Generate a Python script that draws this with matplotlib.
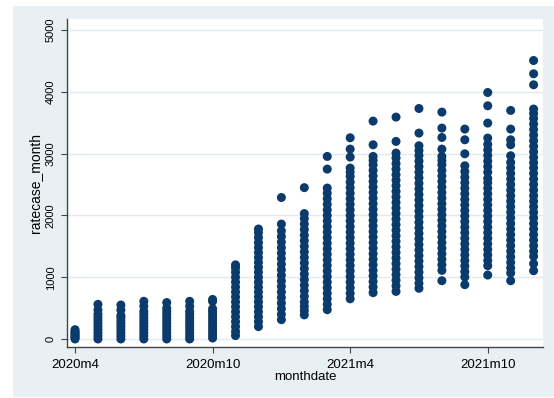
import matplotlib
matplotlib.use('Agg')
import matplotlib.pyplot as plt
import matplotlib.patches as patches

# month labels (index 0 = 2020m4 ... 20 = 2021m12)
months = ['2020m4', '2020m5', '2020m6', '2020m7', '2020m8', '2020m9', '2020m10',
          '2020m11', '2020m12', '2021m1', '2021m2', '2021m3', '2021m4', '2021m5',
          '2021m6', '2021m7', '2021m8', '2021m9', '2021m10', '2021m11', '2021m12']
tick_months = ['2020m4', '2020m10', '2021m4', '2021m10']
y_ticks = [0, 1000, 2000, 3000, 4000, 5000]

# ratecase_month values read per month
m2020_04 = [0, 20, 40, 60, 80, 100, 120, 150]
m2020_05 = [0, 50, 100, 150, 200, 250, 300, 350, 400, 470, 560]
m2020_06 = [0, 50, 100, 150, 200, 250, 300, 350, 380, 470, 550]
m2020_07 = [0, 50, 100, 150, 200, 250, 300, 350, 400, 450, 530, 610]
m2020_08 = [0, 50, 100, 150, 200, 250, 300, 350, 400, 450, 500, 590]
m2020_09 = [0, 50, 100, 150, 200, 250, 300, 350, 400, 450, 530, 610]
m2020_10 = [15, 60, 110, 160, 210, 260, 310, 360, 410, 450, 490, 610, 640]
m2020_11 = [55, 120, 200, 280, 360, 440, 520, 600, 680, 760, 840, 920, 1000,
            1080, 1150, 1200]
m2020_12 = [200, 280, 360, 440, 520, 600, 680, 760, 840, 920, 1000, 1080, 1160,
            1240, 1320, 1400, 1480, 1560, 1640, 1720, 1780]
m2021_01 = [312, 400, 490, 580, 670, 760, 850, 940, 1030, 1120, 1210, 1300,
            1390, 1480, 1570, 1660, 1750, 1860, 2290]
m2021_02 = [390, 460, 527, 600, 690, 780, 870, 960, 1050, 1140, 1230, 1320,
            1410, 1500, 1590, 1680, 1770, 1860, 1950, 2030, 2450]
m2021_03 = [474, 560, 650, 740, 830, 920, 1010, 1100, 1190, 1280, 1370, 1460,
            1550, 1640, 1730, 1820, 1910, 2000, 2090, 2180, 2270, 2360, 2443,
            2750, 2955]
m2021_04 = [650, 740, 830, 920, 1010, 1100, 1190, 1280, 1370, 1460, 1550, 1640,
            1730, 1820, 1910, 2000, 2090, 2180, 2270, 2360, 2450, 2540, 2630,
            2700, 2767, 2945, 3074, 3257]
m2021_05 = [750, 840, 930, 1020, 1110, 1200, 1290, 1380, 1470, 1560, 1650, 1740,
            1830, 1920, 2010, 2100, 2190, 2280, 2370, 2460, 2550, 2640, 2730,
            2820, 2890, 2955, 3144, 3527]
m2021_06 = [770, 860, 950, 1040, 1130, 1220, 1310, 1400, 1490, 1580, 1670, 1760,
            1850, 1940, 2030, 2120, 2210, 2300, 2390, 2480, 2570, 2660, 2750,
            2840, 2930, 3010, 3198, 3592]
m2021_07 = [820, 900, 990, 1080, 1170, 1260, 1350, 1440, 1530, 1620, 1710, 1800,
            1890, 1980, 2070, 2160, 2250, 2340, 2430, 2520, 2610, 2700, 2790,
            2880, 2970, 3050, 3128, 3333, 3731]
m2021_08 = [943, 1110, 1200, 1290, 1380, 1470, 1560, 1650, 1740, 1830, 1920,
            2010, 2100, 2190, 2280, 2370, 2460, 2550, 2640, 2730, 2820, 2890,
            2955, 3074, 3262, 3414, 3673]
m2021_09 = [879, 1003, 1090, 1180, 1270, 1360, 1450, 1540, 1630, 1720, 1810,
            1900, 1990, 2080, 2170, 2260, 2350, 2440, 2530, 2620, 2710, 2804,
            2998, 3225, 3398]
m2021_10 = [1035, 1186, 1270, 1360, 1450, 1540, 1630, 1720, 1810, 1900, 1990,
            2080, 2170, 2260, 2350, 2440, 2530, 2600, 2700, 2790, 2880, 2970,
            3060, 3150, 3252, 3495, 3775, 3990]
m2021_11 = [943, 1068, 1150, 1240, 1330, 1420, 1510, 1600, 1690, 1780, 1870,
            1960, 2050, 2140, 2230, 2320, 2410, 2500, 2590, 2680, 2770, 2860,
            2966, 3144, 3225, 3398, 3700]
m2021_12 = [1105, 1218, 1337, 1420, 1510, 1600, 1690, 1780, 1870, 1960, 2050,
            2140, 2230, 2320, 2410, 2500, 2590, 2680, 2770, 2853, 2940, 3030,
            3120, 3210, 3300, 3390, 3480, 3570, 3650, 3722, 4115, 4293, 4508]

values = [m2020_04, m2020_05, m2020_06, m2020_07, m2020_08, m2020_09, m2020_10,
          m2020_11, m2020_12, m2021_01, m2021_02, m2021_03, m2021_04, m2021_05,
          m2021_06, m2021_07, m2021_08, m2021_09, m2021_10, m2021_11, m2021_12]

plt.rcParams['font.family'] = ['Liberation Sans', 'DejaVu Sans']

bg = '#e8f0f3'
navy = '#0b3b6c'

fig = plt.figure(figsize=(5.54, 3.98), dpi=100, facecolor='white')
# Stata-like graph region, kept behind the axes
fig.patches.append(patches.Rectangle((13 / 554, 1 / 398), 541 / 554, 391 / 398,
                                     transform=fig.transFigure, facecolor=bg,
                                     edgecolor='none', zorder=-10))

ax = fig.add_axes([67 / 554, 51 / 398, 476 / 554, 328 / 398])
ax.set_zorder(5)
ax.set_facecolor('white')

for i, vals in enumerate(values):
    ax.scatter([i] * len(vals), vals, s=42, color=navy, edgecolors='none', zorder=3)

ax.set_xlim(-0.35, 20.41)
ax.set_ylim(-130, 5180)

ax.set_yticks(y_ticks)
ax.set_yticklabels([str(v) for v in y_ticks], rotation=90, va='center', fontsize=8)
ax.set_xticks([months.index(m) for m in tick_months])
ax.set_xticklabels(tick_months, fontsize=9.5)

ax.grid(axis='y', color='#e0eaef', linewidth=1)
ax.set_axisbelow(True)

for side in ['top', 'right']:
    ax.spines[side].set_visible(False)
for side in ['left', 'bottom']:
    ax.spines[side].set_color('#444444')
    ax.spines[side].set_linewidth(1)
ax.tick_params(axis='y', length=4, width=0.8, color='#444444', pad=4)
ax.tick_params(axis='x', length=4, width=0.8, color='#444444', pad=5)

ax.set_xlabel('monthdate', fontsize=9.5, labelpad=0)
ax.set_ylabel('ratecase_month', fontsize=10, labelpad=3)

fig.savefig('out.png', dpi=100, facecolor='white')
